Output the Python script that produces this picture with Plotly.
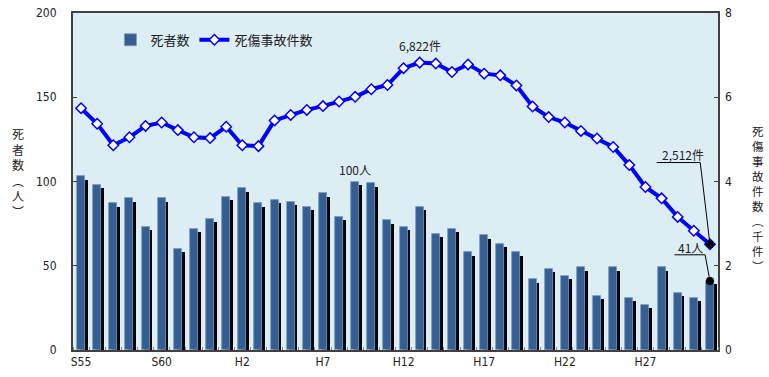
import plotly.graph_objects as go

years = list(range(1980, 2020))
deaths = [103, 98, 87, 90, 73, 90, 60, 72, 78, 91, 96, 87, 89, 88, 85, 93, 79, 100, 99, 77,
          73, 85, 69, 72, 58, 68, 63, 58, 42, 48, 44, 49, 32, 49, 31, 27, 49, 34, 31, 41]
cases = [5.74, 5.37, 4.86, 5.05, 5.32, 5.40, 5.22, 5.05, 5.03, 5.30, 4.86, 4.84, 5.45, 5.58,
         5.70, 5.79, 5.90, 6.01, 6.19, 6.29, 6.69, 6.822, 6.80, 6.60, 6.78, 6.56, 6.52, 6.28,
         5.78, 5.53, 5.40, 5.20, 5.02, 4.82, 4.39, 3.87, 3.60, 3.16, 2.83, 2.512]
tick_years = [1980, 1985, 1990, 1995, 2000, 2005, 2010, 2015]
tick_labels = ["S55", "S60", "H2", "H7", "H12", "H17", "H22", "H27"]

JP = "Noto Sans CJK JP"
NUM = "DejaVu Sans Condensed, Liberation Sans Narrow, " + JP

fig = go.Figure()
# bar shadow
fig.add_trace(go.Bar(x=years, y=deaths, base=[-2] * len(deaths), width=0.5, offset=-0.08,
                     marker=dict(color="#000000", line=dict(width=0)),
                     showlegend=False, hoverinfo="skip"))
fig.add_trace(go.Bar(x=years, y=deaths, width=0.5, offset=-0.25, name="死者数",
                     marker=dict(color="#355F92", line=dict(color="#7F9CC4", width=0.8))))
fig.add_trace(go.Scatter(x=years, y=cases, yaxis="y2", mode="lines+markers", name="死傷事故件数",
                         line=dict(color="#0000FF", width=4),
                         marker=dict(symbol="diamond", size=8, color="white",
                                     line=dict(color="#0000FF", width=1.5))))
fig.add_trace(go.Scatter(x=[years[-1]], y=[deaths[-1]], mode="markers", showlegend=False,
                         marker=dict(color="black", size=8)))
fig.add_trace(go.Scatter(x=[years[-1]], y=[cases[-1]], yaxis="y2", mode="markers", showlegend=False,
                         marker=dict(color="black", size=8)))

annotations = [
    dict(x=years[21], y=cases[21], yref="y2", text="6,822件", showarrow=False, yshift=17,
         font=dict(family=JP, size=12, color="#222")),
    dict(x=years[17], y=deaths[17], yref="y", text="100人", showarrow=False, yshift=12,
         font=dict(family=JP, size=12, color="#222")),
    dict(x=2017.3, y=4.64, yref="y2", text="2,512件", showarrow=False,
         font=dict(family=JP, size=12, color="#222")),
    dict(x=2017.8, y=60.7, yref="y", text="41人", showarrow=False,
         font=dict(family=JP, size=12, color="#222")),
    dict(x=(18 - 73) / 645, y=(350 - 172) / 337, xref="paper", yref="paper",
         xanchor="center", yanchor="middle",
         text="<br>".join(["死", "者", "数", "︵", "人", "︶"]), showarrow=False,
         font=dict(family=JP, size=12, color="#222")),
    dict(x=(758 - 73) / 645, y=(350 - 198) / 337, xref="paper", yref="paper",
         xanchor="center", yanchor="middle",
         text="<br>".join(["死", "傷", "事", "故", "件", "数", "︵", "千", "件", "︶"]),
         showarrow=False, font=dict(family=JP, size=11.5, color="#222")),
]

shapes = [
    dict(type="line", xref="x", yref="y2", x0=2015.7, y0=4.45, x1=2018.4, y1=4.45,
         line=dict(color="black", width=1)),
    dict(type="line", xref="x", yref="y2", x0=2018.4, y0=4.45, x1=years[-1], y1=cases[-1],
         line=dict(color="black", width=1)),
    dict(type="line", xref="x", yref="y", x0=2016.8, y0=56.5, x1=2018.7, y1=56.5,
         line=dict(color="black", width=1)),
    dict(type="line", xref="x", yref="y", x0=2018.7, y0=56.5, x1=years[-1], y1=deaths[-1],
         line=dict(color="black", width=1)),
]

fig.update_layout(
    width=769, height=377,
    margin=dict(l=73, r=51, t=13, b=27, autoexpand=False),
    paper_bgcolor="white", plot_bgcolor="#DCEEF4",
    barmode="overlay", bargap=0,
    showlegend=True,
    legend=dict(orientation="h", x=0.058, y=0.965, xanchor="left", yanchor="top",
                bgcolor="rgba(0,0,0,0)", font=dict(family=JP, size=13, color="#222"),
                itemwidth=30, tracegroupgap=0),
    xaxis=dict(range=[1979.5, 2019.5], tickvals=tick_years, ticktext=tick_labels,
               ticks="", showgrid=False, zeroline=False, automargin=False,
               showline=True, linecolor="#404040", linewidth=2, mirror=True,
               tickfont=dict(family=NUM, size=12, color="#222"),
               minor=dict(tick0=1979.5, dtick=1, ticks="inside", ticklen=3, tickcolor="#888",
                          showgrid=False)),
    yaxis=dict(range=[0, 200], dtick=50, ticks="inside", ticklen=4, tickcolor="#404040",
               showgrid=False, zeroline=False, showline=True, linecolor="#404040", linewidth=2,
               mirror=True, automargin=False, ticklabelstandoff=12,
               tickfont=dict(family=NUM, size=12, color="#222")),
    yaxis2=dict(range=[0, 8], dtick=2, overlaying="y", side="right", ticks="inside", ticklen=4,
                tickcolor="#404040", showgrid=False, zeroline=False, showline=False,
                automargin=False, ticklabelstandoff=6,
                tickfont=dict(family=NUM, size=12, color="#222")),
    annotations=annotations, shapes=shapes,
)

fig.write_html("out.html", post_script="document.body.style.margin='0';",
               config={"displayModeBar": False})
